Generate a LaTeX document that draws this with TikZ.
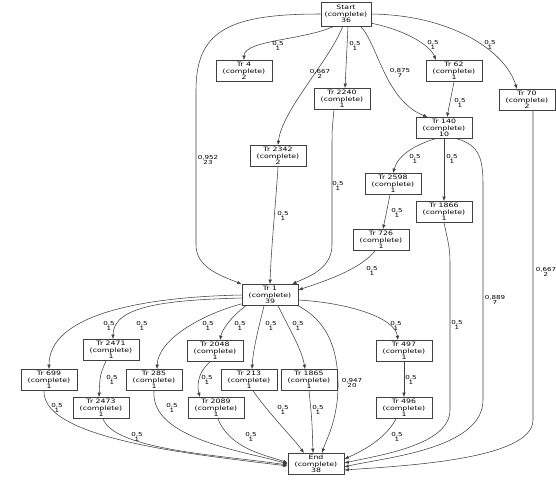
\documentclass[tikz,border=0pt]{standalone}
\usepackage{fontspec}
\usetikzlibrary{arrows.meta}

\newfontfamily\trfont[FakeStretch=1.3]{DejaVu Sans}
\newcommand*{\trtext}[2]{#1\\(complete)\\#2}

\begin{document}
\begin{tikzpicture}
[
	x=1pt, y=-1pt,
	tr/.style={draw=black!75, line width=0.7pt, minimum width=56pt, minimum height=21pt, inner sep=0pt, align=center, font=\trfont\fontsize{6}{6.4}\selectfont},
	wt/.style={inner sep=0pt, align=center, font=\trfont\fontsize{5.5}{5.6}\selectfont},
	arc/.style={draw=black!75, line width=0.55pt, -{Latex[length=4.5pt,width=3.5pt]}},
]

	\useasboundingbox (0,0) rectangle (556,483);

	% tasks
	\node[tr, minimum width=50pt, minimum height=24pt] (start) at (346,14) {\trtext{Start}{36}};
	\node[tr] (tr4) at (244,71) {\trtext{Tr 4}{2}};
	\node[tr] (tr2240) at (342,99) {\trtext{Tr 2240}{1}};
	\node[tr] (tr62) at (454,71) {\trtext{Tr 62}{1}};
	\node[tr] (tr70) at (527,100) {\trtext{Tr 70}{2}};
	\node[tr] (tr140) at (444,128) {\trtext{Tr 140}{10}};
	\node[tr] (tr2342) at (278,156) {\trtext{Tr 2342}{2}};
	\node[tr] (tr2598) at (393,184) {\trtext{Tr 2598}{1}};
	\node[tr] (tr1866) at (444,212) {\trtext{Tr 1866}{1}};
	\node[tr] (tr726) at (381,240) {\trtext{Tr 726}{1}};
	\node[tr] (tr1) at (270,295) {\trtext{Tr 1}{39}};
	\node[tr] (tr699) at (49,380) {\trtext{Tr 699}{1}};
	\node[tr] (tr2471) at (111,350) {\trtext{Tr 2471}{1}};
	\node[tr] (tr2473) at (101,408) {\trtext{Tr 2473}{1}};
	\node[tr] (tr285) at (154,380) {\trtext{Tr 285}{1}};
	\node[tr] (tr2048) at (215,351) {\trtext{Tr 2048}{1}};
	\node[tr] (tr2089) at (216,408) {\trtext{Tr 2089}{1}};
	\node[tr] (tr213) at (249,380) {\trtext{Tr 213}{1}};
	\node[tr] (tr1865) at (309,380) {\trtext{Tr 1865}{1}};
	\node[tr] (tr497) at (404,351) {\trtext{Tr 497}{1}};
	\node[tr] (tr496) at (404,408) {\trtext{Tr 496}{1}};
	\node[tr] (end) at (316,464) {\trtext{End}{38}};

	% arcs from start
	\draw[arc] (start.west) .. controls (230,14) and (196,30) .. (196,90) -- (196,245) .. controls (196,268) and (222,276) .. (tr1.north west);
	\draw[arc] (start.225) .. controls (305,40) and (244,40) .. (tr4.north);
	\draw[arc] ([xshift=2pt]start.south) -- ([xshift=3pt]tr2240.north);
	\draw[arc] (start.255) .. controls (330,60) and (282,110) .. (tr2342.north);
	\draw[arc] (start.-40) .. controls (378,45) and (385,100) .. ([xshift=12pt]tr140.north west);
	\draw[arc] (start.-20) .. controls (405,30) and (430,45) .. ([xshift=-18pt]tr62.north);
	\draw[arc] (start.east) .. controls (450,15) and (505,50) .. ([xshift=-10pt]tr70.north);

	% upper right
	\draw[arc] (tr62.south) -- ([xshift=3pt]tr140.north);
	\draw[arc] (tr140.-130) .. controls (415,145) and (398,155) .. (tr2598.north);
	\draw[arc] (tr140.south) -- (tr1866.north);
	\draw[arc] ([xshift=-3pt]tr2598.south) -- ([xshift=2pt]tr726.north);
	\draw[arc] ([xshift=-6pt]tr726.south) .. controls (360,270) and (322,282) .. ([yshift=5pt]tr1.east);
	\draw[arc] (tr2342.south) .. controls (276,200) and (271,250) .. (tr1.north);
	\draw[arc] ([xshift=-8pt]tr2240.south) .. controls (332,130) .. (332,150) -- (332,245) .. controls (332,270) and (305,278) .. ([xshift=22pt]tr1.north);
	\draw[arc] (tr140.-40) .. controls (480,145) and (483,160) .. (483,185) -- (483,400) .. controls (483,450) and (380,458) .. ([yshift=-3pt]end.east);
	\draw[arc] (tr1866.south) .. controls (450,250) .. (450,270) -- (450,410) .. controls (450,445) and (380,455) .. ([yshift=1pt]end.east);
	\draw[arc] ([xshift=6pt]tr70.south) -- (533,420) .. controls (533,460) and (400,466) .. ([yshift=-6pt]end.east);

	% arcs from tr 1
	\draw[arc] (tr1.west) .. controls (140,297) and (49,315) .. (tr699.north);
	\draw[arc] ([yshift=-3pt]tr1.west) .. controls (170,300) and (113,305) .. ([xshift=2pt]tr2471.north);
	\draw[arc] ([yshift=2pt]tr1.south west) .. controls (200,315) and (158,340) .. ([xshift=3pt]tr285.north);
	\draw[arc] ([xshift=4pt]tr1.south west) .. controls (230,318) and (222,330) .. ([xshift=5pt]tr2048.north);
	\draw[arc] ([xshift=-6pt]tr1.south) .. controls (258,330) and (253,350) .. ([xshift=3pt]tr213.north);
	\draw[arc] ([xshift=8pt]tr1.south) .. controls (290,330) and (302,350) .. ([xshift=-4pt]tr1865.north);
	\draw[arc] (tr1.south east) .. controls (325,320) and (338,345) .. (338,385) .. controls (338,420) and (326,440) .. ([xshift=6pt]end.north);
	\draw[arc] (tr1.-10) .. controls (350,303) and (395,318) .. ([xshift=-6pt]tr497.north);

	% lower part
	\draw[arc] ([xshift=-5pt]tr2471.south) .. controls (100,375) .. ([xshift=-2pt]tr2473.north);
	\draw[arc] ([xshift=-5pt]tr2048.south) .. controls (195,375) and (198,390) .. ([xshift=-16pt]tr2089.north);
	\draw[arc] (tr497.south) -- (tr496.north);
	\draw[arc] ([xshift=-5pt]tr699.south) .. controls (42,440) and (200,455) .. ([yshift=-2pt]end.west);
	\draw[arc] ([xshift=2pt]tr2473.south) .. controls (115,450) and (220,455) .. ([yshift=-1pt]end.west);
	\draw[arc] (tr285.south) .. controls (150,440) and (250,452) .. (end.west);
	\draw[arc] ([xshift=2pt]tr2089.south) .. controls (230,450) and (270,456) .. ([yshift=1pt]end.west);
	\draw[arc] ([xshift=4pt]tr213.south) .. controls (270,415) and (295,440) .. ([xshift=-12pt]end.north);
	\draw[arc] (tr1865.south) .. controls (312,420) .. ([xshift=-3pt]end.north);
	\draw[arc] ([xshift=-8pt]tr496.south) .. controls (385,440) and (360,452) .. ([yshift=5pt]end.east);

	% weights
	\node[wt] (w1) at (278,46) {0,5\\1};
	\node[wt] (w2) at (355,46) {0,5\\1};
	\node[wt] (w3) at (320,74) {0,667\\2};
	\node[wt] (w4) at (400,73) {0,875\\7};
	\node[wt] (w5) at (433,45) {0,5\\1};
	\node[wt] (w6) at (490,45) {0,5\\1};
	\node[wt] (w7) at (208,160) {0,952\\23};
	\node[wt] (w8) at (460,103) {0,5\\1};
	\node[wt] (w9) at (415,159) {0,5\\1};
	\node[wt] (w10) at (452,159) {0,5\\1};
	\node[wt] (w11) at (397,213) {0,5\\1};
	\node[wt] (w12) at (372,271) {0,5\\1};
	\node[wt] (w13) at (283,216) {0,5\\1};
	\node[wt] (w14) at (338,186) {0,5\\1};
	\node[wt] (w15) at (495,300) {0,889\\7};
	\node[wt] (w16) at (546,272) {0,667\\2};
	\node[wt] (w17) at (457,325) {0,5\\1};
	\node[wt] (w18) at (109,326) {0,5\\1};
	\node[wt] (w19) at (142,326) {0,5\\1};
	\node[wt] (w20) at (208,326) {0,5\\1};
	\node[wt] (w21) at (240,326) {0,5\\1};
	\node[wt] (w22) at (271,326) {0,5\\1};
	\node[wt] (w23) at (298,326) {0,5\\1};
	\node[wt] (w24) at (396,326) {0,5\\1};
	\node[wt] (w25) at (352,383) {0,947\\20};
	\node[wt] (w26) at (112,380) {0,5\\1};
	\node[wt] (w27) at (207,380) {0,5\\1};
	\node[wt] (w28) at (411,380) {0,5\\1};
	\node[wt] (w29) at (57,408) {0,5\\1};
	\node[wt] (w30) at (137,437) {0,5\\1};
	\node[wt] (w31) at (172,408) {0,5\\1};
	\node[wt] (w32) at (251,437) {0,5\\1};
	\node[wt] (w33) at (283,410) {0,5\\1};
	\node[wt] (w34) at (318,410) {0,5\\1};
	\node[wt] (w35) at (397,437) {0,5\\1};

\end{tikzpicture}
\end{document}
